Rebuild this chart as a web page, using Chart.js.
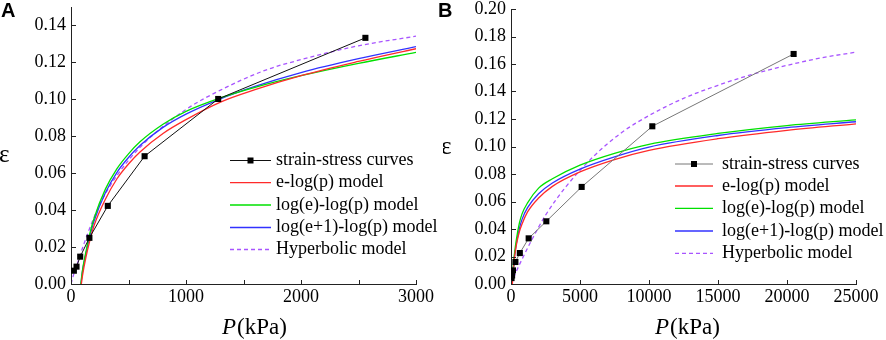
<!DOCTYPE html>
<html>
<head>
<meta charset="utf-8">
<script src="https://cdn.jsdelivr.net/npm/chart.js@4.4.1/dist/chart.umd.min.js"></script>
<style>
  html, body { margin: 0; padding: 0; background: #fff; }
  #wrap { position: relative; width: 886px; height: 340px; overflow: hidden; }
  .panel { position: absolute; top: 0; width: 443px; height: 340px; }
  .tag { position: absolute; font: bold 20px "Liberation Sans", Arial, sans-serif; color: #000; line-height: 20px; }
</style>
</head>
<body>
<div id="wrap">
  <div class="panel" style="left:0"><canvas id="chartA" width="443" height="340"></canvas></div>
  <div class="panel" style="left:443px"><canvas id="chartB" width="443" height="340"></canvas></div>
  <div class="tag" style="left:1px;top:0">A</div>
  <div class="tag" style="left:438px;top:0">B</div>
</div>
<script>
const SERIF = "'Liberation Serif', 'Times New Roman', serif";
Chart.defaults.font.family = SERIF;

const legendLabels = ['strain-stress curves', 'e-log(p) model', 'log(e)-log(p) model', 'log(e+1)-log(p) model', 'Hyperbolic model'];

// panel A: measured points
const pressA = [25, 48, 80, 160, 320, 640, 1280, 2560];
const strainA = [0.0072, 0.0094, 0.0148, 0.025, 0.0423, 0.0692, 0.1002, 0.1333];
// panel A: model curves
const elogA_p = [90, 100, 130, 160, 200, 300, 400, 500, 600, 800, 1000, 1300, 1600, 2000, 2500, 3000];
const elogA_e = [0, 0.0045, 0.0145, 0.0225, 0.0315, 0.046, 0.057, 0.065, 0.0715, 0.0815, 0.089, 0.0985, 0.1052, 0.1128, 0.1205, 0.1274];
const loglogA_p = [85, 100, 130, 160, 200, 300, 400, 500, 600, 800, 1000, 1300, 1600, 2000, 2500, 3000];
const loglogA_e = [0, 0.0075, 0.0175, 0.0265, 0.0355, 0.0515, 0.0625, 0.0705, 0.077, 0.0865, 0.0935, 0.1008, 0.1065, 0.1128, 0.1195, 0.1254];
const logp1A_p = [87, 100, 130, 160, 200, 300, 400, 500, 600, 800, 1000, 1300, 1600, 2000, 2500, 3000];
const logp1A_e = [0, 0.007, 0.0165, 0.025, 0.034, 0.0495, 0.0605, 0.0685, 0.075, 0.0848, 0.092, 0.1003, 0.107, 0.1145, 0.122, 0.1285];
const hypA_p = [0, 25, 50, 100, 200, 300, 500, 700, 1000, 1300, 1700, 2000, 2500, 3000];
const hypA_e = [0, 0.0055, 0.010, 0.0195, 0.036, 0.049, 0.067, 0.080, 0.0945, 0.105, 0.116, 0.1215, 0.129, 0.1342];

// panel B: measured points
const pressB = [40, 80, 140, 320, 640, 1280, 2560, 5120, 10240, 20480];
const strainB = [0.0043, 0.0062, 0.0099, 0.016, 0.0225, 0.0332, 0.0456, 0.0706, 0.1147, 0.1673];
// panel B: model curves
const elogB_p = [100, 150, 250, 400, 600, 800, 1200, 2000, 3000, 5000, 7500, 10000, 15000, 20000, 25000];
const elogB_e = [0, 0.0086, 0.019, 0.029, 0.0378, 0.0437, 0.0524, 0.0625, 0.071, 0.0815, 0.0905, 0.0972, 0.1057, 0.1118, 0.1165];
const loglogB_p = [80, 150, 250, 400, 600, 800, 1200, 2000, 3000, 5000, 7500, 10000, 15000, 20000, 25000];
const loglogB_e = [0, 0.012, 0.022, 0.033, 0.044, 0.051, 0.059, 0.0697, 0.0765, 0.0864, 0.095, 0.1016, 0.1095, 0.1152, 0.1194];
const logp1B_p = [90, 150, 250, 400, 600, 800, 1200, 2000, 3000, 5000, 7500, 10000, 15000, 20000, 25000];
const logp1B_e = [0, 0.010, 0.020, 0.030, 0.040, 0.047, 0.0555, 0.0656, 0.0735, 0.0836, 0.0925, 0.0996, 0.108, 0.1137, 0.118];
const hypB_p = [0, 400, 800, 1500, 2500, 4000, 6000, 8000, 10000, 12500, 15000, 17500, 20000, 22500, 25000];
const hypB_e = [0, 0.0095, 0.018, 0.032, 0.050, 0.071, 0.093, 0.110, 0.1225, 0.135, 0.1445, 0.1525, 0.159, 0.1645, 0.1686];

function pts(xs, ys) {
  return xs.map((x, i) => ({ x: x, y: ys[i] }));
}

// inward ticks, axis titles and the frameless legend
const panelDecor = {
  id: 'panelDecor',
  afterDraw(chart, args, opts) {
    const ctx = chart.ctx;
    const { left, bottom } = chart.chartArea;
    const xs = chart.scales.x, ys = chart.scales.y;
    ctx.save();
    ctx.strokeStyle = '#222';
    ctx.lineWidth = 1;
    ctx.setLineDash([]);
    ctx.beginPath();
    xs.ticks.forEach(t => {
      const px = Math.round(xs.getPixelForValue(t.value)) + 0.5;
      ctx.moveTo(px, bottom);
      ctx.lineTo(px, bottom - 4);
    });
    ys.ticks.forEach(t => {
      const py = Math.round(ys.getPixelForValue(t.value)) + 0.5;
      ctx.moveTo(left, py);
      ctx.lineTo(left + 5, py);
    });
    ctx.stroke();

    // axis titles
    ctx.fillStyle = '#000';
    ctx.textBaseline = 'middle';
    ctx.textAlign = 'left';
    ctx.font = 'italic 23px ' + SERIF;
    const wP = ctx.measureText('P').width;
    ctx.font = '23px ' + SERIF;
    const wK = ctx.measureText('(kPa)').width;
    const tx = opts.titleX - (wP + wK) / 2;
    ctx.font = 'italic 23px ' + SERIF;
    ctx.fillText('P', tx, opts.titleY);
    ctx.font = '23px ' + SERIF;
    ctx.fillText('(kPa)', tx + wP + 1, opts.titleY);
    ctx.font = '25px ' + SERIF;
    ctx.fillText('ε', opts.epsX, opts.epsY);

    // legend
    ctx.font = '18px ' + SERIF;
    chart.data.datasets.forEach((ds, i) => {
      const y = opts.rows[i];
      ctx.strokeStyle = ds.borderColor;
      ctx.lineWidth = ds.borderWidth;
      ctx.setLineDash(ds.borderDash || []);
      ctx.beginPath();
      ctx.moveTo(opts.lx0, y);
      ctx.lineTo(opts.lx1, y);
      ctx.stroke();
      ctx.setLineDash([]);
      if (ds.pointRadius > 0) {
        const cx = (opts.lx0 + opts.lx1) / 2;
        ctx.fillStyle = '#000';
        ctx.fillRect(cx - 3, y - 3, 6, 6);
      }
      ctx.fillStyle = '#000';
      ctx.fillText(ds.label, opts.tx, y);
    });
    ctx.restore();
  }
};

function makeScales(xMax, xStep, xLabelStep, yMax, yWidth) {
  return {
    x: {
      type: 'linear', min: 0, max: xMax,
      grid: { display: true, drawOnChartArea: false, drawTicks: false },
      border: { display: true, color: '#222', width: 1 },
      ticks: {
        stepSize: xStep, autoSkip: false, maxRotation: 0, padding: 4, color: '#000',
        font: { family: SERIF, size: 18, lineHeight: 1 },
        callback: v => (v % xLabelStep === 0 ? String(v) : '')
      },
      afterFit: s => { s.height = 56; s.paddingLeft = 0; s.paddingRight = 0; }
    },
    y: {
      type: 'linear', min: 0, max: yMax,
      grid: { display: true, drawOnChartArea: false, drawTicks: false },
      border: { display: true, color: '#222', width: 1 },
      ticks: {
        stepSize: 0.02, autoSkip: false, padding: 5, color: '#000',
        font: { family: SERIF, size: 18, lineHeight: 1 },
        callback: v => v.toFixed(2)
      },
      afterBuildTicks: s => {
        s.ticks = s.ticks.filter(t => Math.abs(t.value / 0.02 - Math.round(t.value / 0.02)) < 1e-6);
      },
      afterFit: s => { s.width = yWidth; s.paddingTop = 0; s.paddingBottom = 0; }
    }
  };
}

function makeDatasets(dataColor, press, strain, c1, c2, c3, c4) {
  const curve = (label, color, d, dash) => ({
    label: label, data: d, borderColor: color, borderWidth: 1.3,
    borderDash: dash, pointRadius: 0, cubicInterpolationMode: 'monotone', fill: false
  });
  return [
    {
      label: legendLabels[0], data: pts(press, strain), borderColor: dataColor, borderWidth: 1,
      pointStyle: 'rect', pointRadius: 4.3, pointBackgroundColor: '#000', pointBorderColor: '#000',
      pointBorderWidth: 0, tension: 0, fill: false
    },
    curve(legendLabels[1], '#ff2a2a', c1),
    curve(legendLabels[2], '#00e000', c2),
    curve(legendLabels[3], '#3232ff', c3),
    curve(legendLabels[4], '#a855ff', c4, [4, 3])
  ];
}

function makeChart(id, datasets, scales, padding, decor) {
  return new Chart(document.getElementById(id), {
    type: 'line',
    data: { datasets: datasets },
    options: {
      responsive: false,
      animation: false,
      layout: { padding: padding },
      scales: scales,
      plugins: {
        legend: { display: false },
        tooltip: { enabled: false },
        panelDecor: decor
      }
    },
    plugins: [panelDecor]
  });
}

makeChart('chartA',
  makeDatasets('#111', pressA, strainA,
    pts(elogA_p, elogA_e), pts(loglogA_p, loglogA_e), pts(logp1A_p, logp1A_e), pts(hypA_p, hypA_e)),
  makeScales(3000, 500, 1000, 0.15, 71),
  { top: 7, right: 27, left: 0, bottom: 0 },
  { titleX: 254, titleY: 328, epsX: -1, epsY: 155, lx0: 230, lx1: 271, tx: 276, rows: [160.5, 182.7, 205, 227.5, 249.5] });

makeChart('chartB',
  makeDatasets('#777', pressB, strainB,
    pts(elogB_p, elogB_e), pts(loglogB_p, loglogB_e), pts(logp1B_p, logp1B_e), pts(hypB_p, hypB_e)),
  makeScales(25000, 5000, 5000, 0.2, 68),
  { top: 9, right: 30, left: 0, bottom: 0 },
  { titleX: 244, titleY: 328, epsX: -2, epsY: 147, lx0: 232, lx1: 270, tx: 279, rows: [164, 186, 208.3, 231, 253.3] });
</script>
</body>
</html>
